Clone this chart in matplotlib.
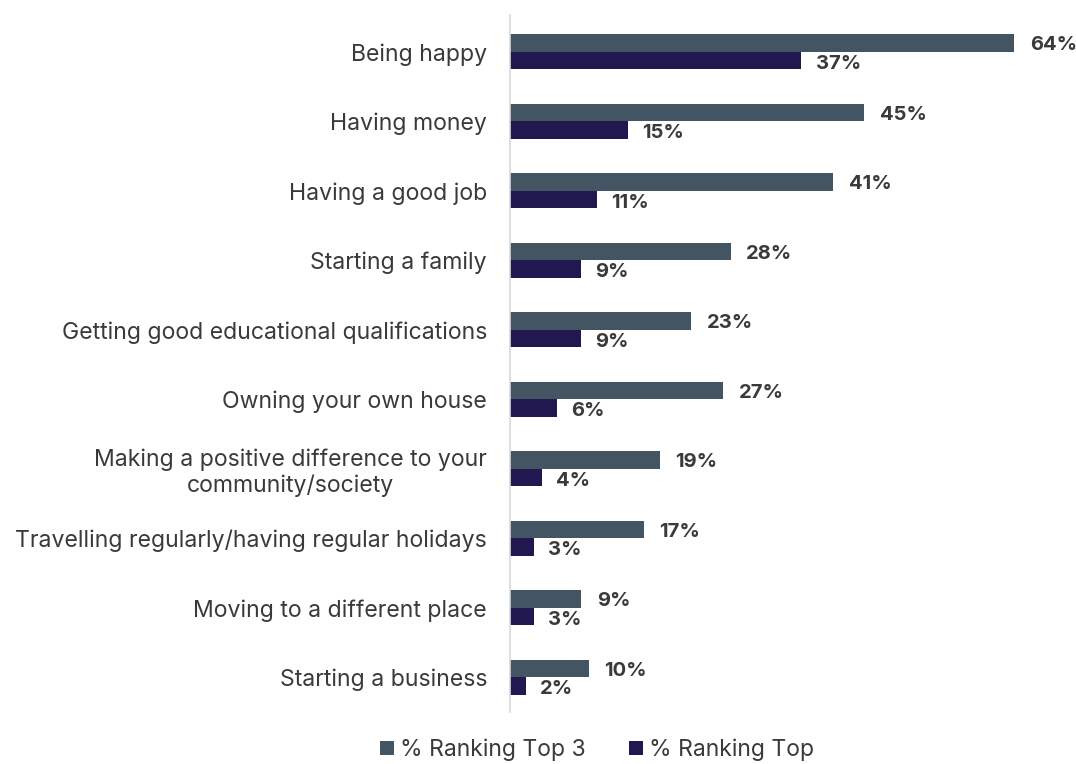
import numpy as np
import matplotlib.pyplot as plt

plt.rcParams['font.family'] = ['Inter', 'DejaVu Sans']

categories = [
    "Being happy",
    "Having money",
    "Having a good job",
    "Starting a family",
    "Getting good educational qualifications",
    "Owning your own house",
    "Making a positive difference to your\ncommunity/society",
    "Travelling regularly/having regular holidays",
    "Moving to a different place",
    "Starting a business",
]
top3 = [64, 45, 41, 28, 23, 27, 19, 17, 9, 10]
top1 = [37, 15, 11, 9, 9, 6, 4, 3, 3, 2]

c_top3 = "#435563"
c_top1 = "#21184f"
c_text = "#3a3a3a"

fig = plt.figure(figsize=(10.76, 7.64), dpi=100)
ax = fig.add_axes([510 / 1076, 52 / 764, 566 / 1076, 697 / 764])

y = np.arange(len(categories))
h = 0.25
ax.barh(y - h / 2, top3, height=h, color=c_top3, label="% Ranking Top 3")
ax.barh(y + h / 2, top1, height=h, color=c_top1, label="% Ranking Top")

for yi, v in zip(y, top3):
    ax.text(v + 2.0, yi - h / 2 + 0.03, f"{v}%", va="center", ha="left",
            fontsize=14.5, fontweight="bold", color=c_text)
for yi, v in zip(y, top1):
    ax.text(v + 1.8, yi + h / 2 + 0.05, f"{v}%", va="center", ha="left",
            fontsize=14.5, fontweight="bold", color=c_text)

ax.set_xlim(0, 566 / 7.875)
ax.set_ylim(len(categories) - 0.5, -0.53)
ax.set_yticks(y)
ax.set_yticklabels(categories, fontsize=16.6, color=c_text, multialignment="center")
ax.tick_params(axis="y", length=0, pad=16.5)
ax.set_xticks([])
for s in ["top", "right", "bottom"]:
    ax.spines[s].set_visible(False)
ax.spines["left"].set_color("#d9d9d9")
ax.spines["left"].set_linewidth(1.2)

fig.legend(loc="center", bbox_to_anchor=(597 / 1076, 1 - 750 / 764), ncol=2,
           frameon=False, fontsize=16.5, handlelength=0.6, handleheight=0.6,
           handletextpad=0.25, columnspacing=1.9, labelcolor=c_text)

fig.savefig("out.png", dpi=100)
